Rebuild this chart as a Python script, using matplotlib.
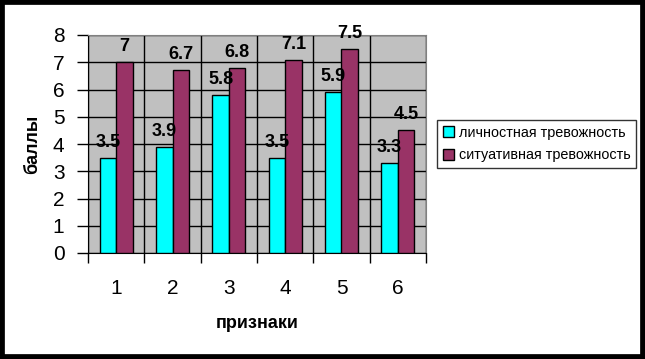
# Bar chart: личностная vs ситуативная тревожность by признаки

import numpy as np
import matplotlib.pyplot as plt
from matplotlib.ticker import FixedLocator

plt.rcParams['font.family'] = ['Liberation Sans', 'DejaVu Sans']

# data
categories = ["1", "2", "3", "4", "5", "6"]
lichnostnaya = [3.5, 3.9, 5.8, 3.5, 5.9, 3.3]
situativnaya = [7, 6.7, 6.8, 7.1, 7.5, 4.5]
series_names = ["личностная тревожность", "ситуативная тревожность"]

x = np.arange(1, len(categories) + 1)
w = 0.29

fig = plt.figure(figsize=(6.45, 3.59), dpi=100)
ax = fig.add_axes([88 / 645, 1 - 253 / 359, (426 - 88) / 645, (253 - 35) / 359])
ax.set_facecolor("#C0C0C0")

b1 = ax.bar(x - w / 2, lichnostnaya, w, color="#00FFFF", edgecolor="black", linewidth=1, label=series_names[0], zorder=3)
b2 = ax.bar(x + w / 2, situativnaya, w, color="#993366", edgecolor="black", linewidth=1, label=series_names[1], zorder=3)

# value labels
for bars, vals in [(b1, lichnostnaya), (b2, situativnaya)]:
    for rect, v in zip(bars, vals):
        ax.annotate(f"{v:g}", (rect.get_x() + rect.get_width() / 2, v), xytext=(0, 5),
                    textcoords="offset points", ha="center", va="bottom",
                    fontsize=13, fontweight="bold", zorder=4)

ax.set_xlim(0.5, 6.5)
ax.set_ylim(0, 8)
ax.set_yticks(range(0, 9))
ax.set_xticks(x)
ax.set_xticklabels(categories)
ax.xaxis.set_minor_locator(FixedLocator(np.arange(0.5, 7, 1)))
ax.tick_params(axis="x", which="major", length=0, pad=19, labelsize=15)
ax.tick_params(axis="x", which="minor", length=7, width=1, direction="out")
ax.tick_params(axis="y", length=8, width=1, direction="out", pad=9, labelsize=15)

ax.grid(axis="y", color="black", linewidth=1, zorder=1)
ax.grid(axis="x", which="minor", color="black", linewidth=1, zorder=1)
ax.set_axisbelow(True)

for s in ["left", "bottom"]:
    ax.spines[s].set_color("black")
for s in ["top", "right"]:
    ax.spines[s].set_color("#808080")

ax.set_ylabel("баллы", fontsize=13, fontweight="bold", labelpad=8)
ax.set_xlabel("признаки", fontsize=13, fontweight="bold", labelpad=12)

leg = fig.legend(loc="upper left", bbox_to_anchor=(437 / 645, 1 - 120 / 359), fontsize=10.4,
                 frameon=True, fancybox=False, edgecolor="black", borderpad=0.4, borderaxespad=0,
                 handlelength=0.8, handleheight=0.8, handletextpad=0.3, labelspacing=0.6)
leg.get_frame().set_linewidth(1)

# black border around the whole picture
fig.patches.append(plt.Rectangle((0, 0), 1, 1, transform=fig.transFigure, fill=False,
                                 edgecolor="black", linewidth=7))

fig.savefig("out.png", dpi=100)
